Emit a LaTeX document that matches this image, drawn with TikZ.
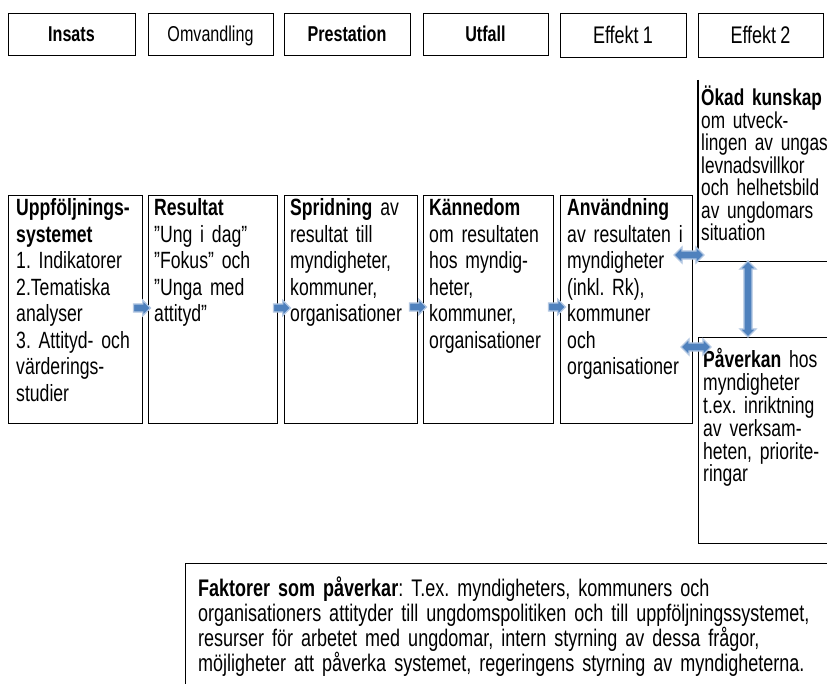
\documentclass[tikz,border=0pt]{standalone}
\usepackage{fontspec}
\setmainfont{Liberation Sans}[FakeStretch=0.75, WordSpace=0.85]
\frenchspacing
\usetikzlibrary{shapes.arrows}
\definecolor{ablue}{HTML}{4F81BD}
\definecolor{alight}{HTML}{B4C8E2}
\begin{document}
\begin{tikzpicture}[x=1pt,y=-1pt,
  boxline/.style={draw=black, line width=1.2pt},
  hbox/.style={boxline, anchor=north west, inner sep=0, minimum height=42},
  mbox/.style={boxline, anchor=north west, inner sep=0, minimum height=228},
  toplab/.style={anchor=base, inner sep=0, font=\fontsize{21.5}{24}\selectfont},
  toplabb/.style={toplab, font=\bfseries\fontsize{21.5}{24}\selectfont},
  body/.style={anchor=base west, inner sep=0, align=left, text width=220,
    font=\fontsize{23.5}{26.5}\selectfont},
  sidebody/.style={anchor=base west, inner sep=0, align=left, text width=220,
    font=\fontsize{23}{22.5}\selectfont},
  pavbody/.style={anchor=base west, inner sep=0, align=left, text width=220,
    font=\fontsize{23.4}{23}\selectfont},
  footbody/.style={anchor=base west, inner sep=0, align=left, text width=700,
    font=\fontsize{24}{25.3}\selectfont},
  rarr/.style={single arrow, fill=ablue, draw=alight, line width=1.3pt,
    minimum height=17, minimum width=0, inner xsep=0, inner ysep=3.4pt,
    single arrow head extend=3.8pt},
  darr/.style={double arrow, fill=ablue, draw=alight, line width=1.3pt,
    minimum width=0, inner xsep=0, inner ysep=3.4pt, double arrow head extend=4pt}
]
\useasboundingbox (0,0) rectangle (827,684);

% top row
\node[hbox, minimum width=127] (insats) at (8,13) {};
\node[toplabb] (linsats) at (71.5,41.5) {Insats};
\node[hbox, minimum width=125] (omv) at (148,13) {};
\node[toplab] (lomv) at (210.5,41.5) {Omvandling};
\node[hbox, minimum width=126] (prest) at (284,13) {};
\node[toplabb] (lprest) at (347,41.5) {Prestation};
\node[hbox, minimum width=125] (utf) at (423,13) {};
\node[toplabb] (lutf) at (485.5,41.5) {Utfall};
\node[hbox, minimum width=126, minimum height=44] (eff1) at (560,13) {};
\node[toplab, font=\fontsize{24}{26}\selectfont] (leff1) at (623,43.5) {Effekt 1};
\node[hbox, minimum width=125, minimum height=44] (eff2) at (698,13) {};
\node[toplab, font=\fontsize{24}{26}\selectfont] (leff2) at (760.5,43.5) {Effekt 2};

% main boxes
\node[mbox, minimum width=134] (upp) at (8,195) {};
\node[mbox, minimum width=129] (res) at (148,195) {};
\node[mbox, minimum width=133] (spr) at (284,195) {};
\node[mbox, minimum width=130] (kan) at (423,195) {};
\node[mbox, minimum width=132] (anv) at (560,195) {};

\node[body] (tupp) at (16,216) {\textbf{Uppföljnings-}\\\textbf{systemet}\\1. Indikatorer\\2.Tematiska\\analyser\\3. Attityd- och\\värderings-\\studier};
\node[body] (tres) at (154,216) {\textbf{Resultat}\\”Ung i dag”\\”Fokus” och\\”Unga med\\attityd”};
\node[body] (tspr) at (290,216) {\textbf{Spridning} av\\resultat till\\myndigheter,\\kommuner,\\organisationer};
\node[body] (tkan) at (429,216) {\textbf{Kännedom}\\om resultaten\\hos myndig-\\heter,\\kommuner,\\organisationer};
\node[body] (tanv) at (567,216) {\textbf{Användning}\\av resultaten i\\myndigheter\\(inkl. Rk),\\kommuner\\och\\organisationer};

% right column
\node[anchor=north west, inner sep=0, minimum width=140, minimum height=181] (okad) at (698,80) {};
\draw[boxline] (okad.north west) -- (okad.south west) -- (okad.south east);
\node[sidebody] (tokad) at (701,106) {\textbf{Ökad kunskap}\\om utveck-\\lingen av ungas\\levnadsvillkor\\och helhetsbild\\av ungdomars\\situation};
\node[boxline, anchor=north west, inner sep=0, minimum width=140, minimum height=206] (pav) at (698,337) {};
\node[pavbody] (tpav) at (703,367) {\textbf{Påverkan} hos\\myndigheter\\t.ex. inriktning\\av verksam-\\heten, priorite-\\ringar};

% bottom box
\node[boxline, anchor=north west, inner sep=0, minimum width=660, minimum height=140] (fak) at (185,563) {};
\node[footbody] (tfak) at (198,596) {\textbf{Faktorer som påverkar}: T.ex. myndigheters, kommuners och\\organisationers attityder till ungdomspolitiken och till uppföljningssystemet,\\resurser för arbetet med ungdomar, intern styrning av dessa frågor,\\möjligheter att påverka systemet, regeringens styrning av myndigheterna.};

% arrows
\node[rarr] (a1) at (140,308) {};
\node[rarr] (a2) at (280,308) {};
\node[rarr] (a3) at (416,307) {};
\node[rarr] (a4) at (555,307) {};
\node[darr, minimum height=30] (d1) at (689,255) {};
\node[darr, minimum height=30] (d2) at (696,347) {};
\node[darr, minimum height=76, rotate=90] (d3) at (748,299) {};
\end{tikzpicture}
\end{document}
